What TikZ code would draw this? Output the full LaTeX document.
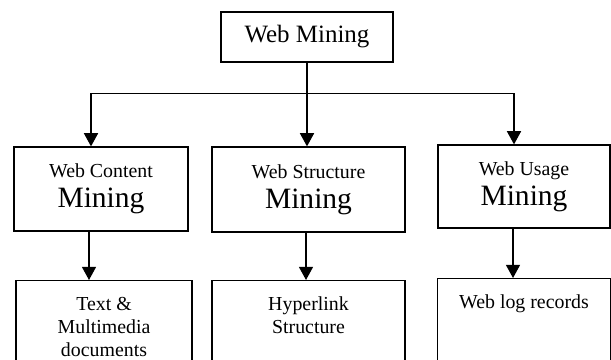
\documentclass[tikz,border=0pt]{standalone}
\usepackage{fontspec}
\setmainfont{Liberation Serif}
\usetikzlibrary{shapes,arrows.meta,positioning}

\begin{document}
\begin{tikzpicture}[
    rootbox/.style={rectangle, minimum width=3.44cm, minimum height=1cm, text centered, draw=black, line width=0.7pt, font=\fontsize{14.2}{17}\selectfont},
    typebox/.style={rectangle, minimum height=1.68cm, align=center, draw=black, line width=0.7pt, font=\fontsize{11.3}{17}\selectfont},
    databox/.style={rectangle, anchor=north, align=center, draw=black, line width=0.7pt, inner ysep=9.4pt, text depth=3cm, font=\fontsize{11.3}{13.1}\selectfont},
    arrow/.style={line width=0.8pt,-{Triangle[width=8pt,length=7.5pt]}}
]
\useasboundingbox (0,0) rectangle (12.22,-7.2);

% Root
\node[rootbox] (root) at (6.14,-0.74) {Web Mining};

% Mining types
\node[typebox, minimum width=3.48cm] (content) at (2.02,-3.78) {Web Content\\{\fontsize{16.8}{17}\selectfont Mining}};
\node[typebox, minimum width=3.86cm, minimum height=1.7cm] (structure) at (6.17,-3.79) {Web Structure\\{\fontsize{16.8}{17}\selectfont Mining}};
\node[typebox, minimum width=3.44cm, minimum height=1.66cm] (usage) at (10.48,-3.73) {Web Usage\\{\fontsize{16.8}{17}\selectfont Mining}};

% Data sources
\node[databox, minimum width=3.52cm] (docs) at (2.08,-5.6) {Text \&\\Multimedia\\documents};
\node[databox, minimum width=3.86cm] (links) at (6.17,-5.6) {Hyperlink\\Structure};
\node[databox, minimum width=3.46cm] (logs) at (10.48,-5.56) {Web log records};

% Arrows
\coordinate (split) at ([yshift=-0.62cm]root.south);
\draw[line width=0.8pt] (root) -- (split);
\draw[arrow] (split) -| ([xshift=-0.2cm]content.north);
\draw[arrow] (split) -- (split |- structure.north);
\draw[arrow] (split) -| ([xshift=-0.2cm]usage.north);

\draw[arrow] ([xshift=-0.24cm]content.south) -- ([xshift=-0.24cm]content.south |- docs.north);
\draw[arrow] ([xshift=-0.05cm]structure.south) -- ([xshift=-0.05cm]structure.south |- links.north);
\draw[arrow] ([xshift=-0.22cm]usage.south) -- ([xshift=-0.22cm]usage.south |- logs.north);

\end{tikzpicture}
\end{document}
